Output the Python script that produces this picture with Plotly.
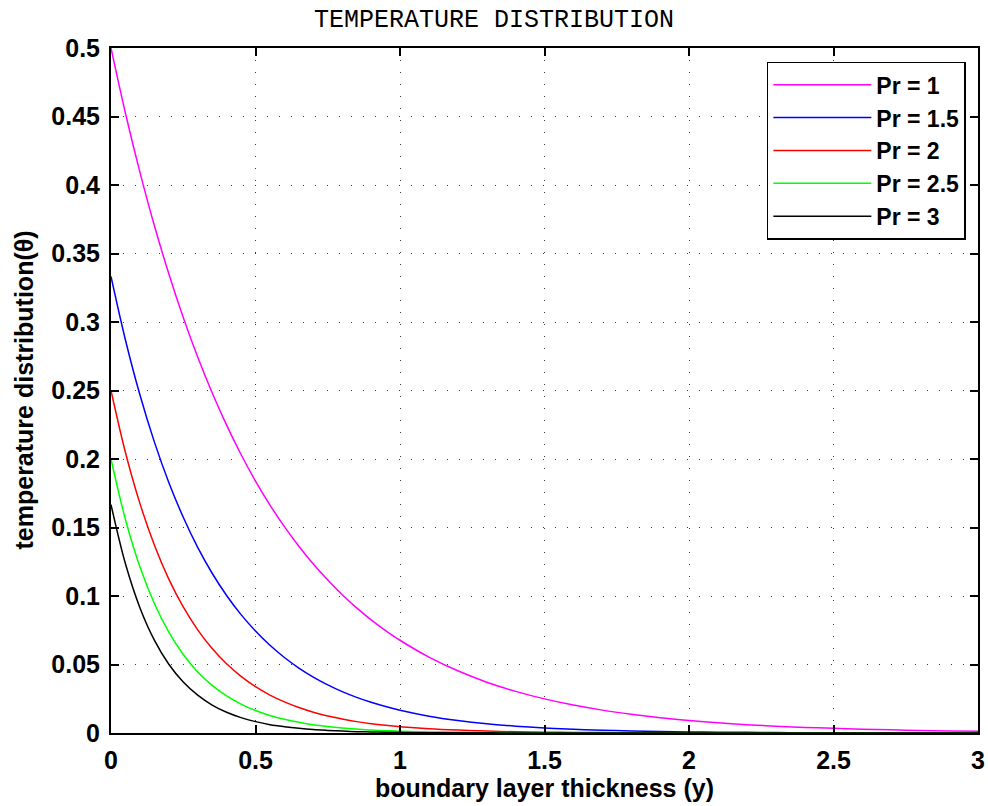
"""
plot.py  –  Temperature distribution across the boundary layer for several Prandtl numbers.
"""

import plotly.graph_objects as go

# ── Data ──────────────────────────────────────────────────────────────────────
y_pos = [0.0, 0.05, 0.1, 0.15, 0.2, 0.25, 0.3, 0.35, 0.4, 0.45, 0.5,
         0.55, 0.6, 0.65, 0.7, 0.75, 0.8, 0.85, 0.9, 0.95, 1.0,
         1.1, 1.2, 1.3, 1.4, 1.5, 1.6, 1.7, 1.8, 1.9, 2.0,
         2.1, 2.2, 2.3, 2.4, 2.5, 2.6, 2.7, 2.8, 2.9, 3.0]

theta_pr1 = [0.5000, 0.4524, 0.4094, 0.3704, 0.3352, 0.3033, 0.2744, 0.2483, 0.2247, 0.2033, 0.1839,
             0.1664, 0.1506, 0.1363, 0.1233, 0.1116, 0.1009, 0.0913, 0.0826, 0.0748, 0.0677,
             0.0554, 0.0454, 0.0371, 0.0304, 0.0249, 0.0204, 0.0167, 0.0137, 0.0112, 0.0092,
             0.0075, 0.0061, 0.0050, 0.0041, 0.0034, 0.0028, 0.0023, 0.0018, 0.0015, 0.0012]
theta_pr15 = [0.3333, 0.2869, 0.2469, 0.2125, 0.1829, 0.1575, 0.1355, 0.1166, 0.1004, 0.0864, 0.0744,
              0.0640, 0.0551, 0.0474, 0.0408, 0.0351, 0.0302, 0.0260, 0.0224, 0.0193, 0.0166,
              0.0123, 0.0091, 0.0067, 0.0050, 0.0037, 0.0027, 0.0020, 0.0015, 0.0011, 0.0008,
              0.0006, 0.0005, 0.0003, 0.0002, 0.0002, 0.0001, 0.0001, 0.0001, 0.0001, 0.0]
theta_pr2 = [0.2500, 0.2047, 0.1676, 0.1372, 0.1123, 0.0920, 0.0753, 0.0617, 0.0505, 0.0413, 0.0338,
             0.0277, 0.0227, 0.0186, 0.0152, 0.0124, 0.0102, 0.0083, 0.0068, 0.0056, 0.0046,
             0.0031, 0.0021, 0.0014, 0.0009, 0.0006, 0.0004, 0.0003, 0.0002, 0.0001, 0.0001,
             0.0, 0.0, 0.0, 0.0, 0.0, 0.0, 0.0, 0.0, 0.0, 0.0]
theta_pr25 = [0.2000, 0.1558, 0.1213, 0.0945, 0.0736, 0.0573, 0.0446, 0.0348, 0.0271, 0.0211, 0.0164,
              0.0128, 0.0100, 0.0078, 0.0060, 0.0047, 0.0037, 0.0029, 0.0022, 0.0017, 0.0013,
              0.0008, 0.0005, 0.0003, 0.0002, 0.0001, 0.0, 0.0, 0.0, 0.0, 0.0,
              0.0, 0.0, 0.0, 0.0, 0.0, 0.0, 0.0, 0.0, 0.0, 0.0]
theta_pr3 = [0.1667, 0.1235, 0.0915, 0.0678, 0.0502, 0.0372, 0.0276, 0.0204, 0.0151, 0.0112, 0.0083,
             0.0061, 0.0046, 0.0034, 0.0025, 0.0019, 0.0014, 0.0010, 0.0008, 0.0006, 0.0004,
             0.0002, 0.0001, 0.0001, 0.0, 0.0, 0.0, 0.0, 0.0, 0.0, 0.0,
             0.0, 0.0, 0.0, 0.0, 0.0, 0.0, 0.0, 0.0, 0.0, 0.0]

series_names = ["Pr = 1", "Pr = 1.5", "Pr = 2", "Pr = 2.5", "Pr = 3"]
series_values = [theta_pr1, theta_pr15, theta_pr2, theta_pr25, theta_pr3]
series_colors = ["#FF00FF", "#0000FF", "#FF0000", "#00FF00", "#000000"]

# ── Shared style ──────────────────────────────────────────────────────────────
W, H = 988, 806
_FONT = "Liberation Sans, Arial, sans-serif"
_BOLD = dict(family=_FONT, size=25, color="black", weight="bold")
_AXIS = dict(
    showline=True, linecolor="black", linewidth=2, mirror="ticks",
    ticks="inside", ticklen=8, tickwidth=1.5, tickcolor="black",
    showgrid=True, gridcolor="#3a3a3a", gridwidth=1, griddash="1px,11px",
    zeroline=False, automargin=False, ticklabelstandoff=4,
    tickfont=_BOLD,
)

fig = go.Figure()
for name, vals, color in zip(series_names, series_values, series_colors):
    fig.add_trace(go.Scatter(
        x=y_pos, y=vals, name=name, mode="lines",
        line=dict(color=color, width=1.5, shape="spline", smoothing=1.0),
    ))

fig.update_layout(
    width=W, height=H,
    paper_bgcolor="white", plot_bgcolor="white",
    margin=dict(l=111, r=10, t=48, b=73),
    title=dict(text="TEMPERATURE DISTRIBUTION", x=0.5, xanchor="center",
               y=1 - 18 / H, yanchor="middle", automargin=False,
               font=dict(family="Liberation Mono, Courier New, monospace",
                         size=25, color="black")),
    legend=dict(x=0.986, xanchor="right", y=0.98, yanchor="top",
                bgcolor="white", bordercolor="black", borderwidth=1.5,
                itemwidth=98, tracegroupgap=0,
                font=dict(family=_FONT, size=23, color="black", weight="bold")),
    showlegend=True,
)
fig.update_xaxes(**_AXIS, range=[0, 3], dtick=0.5, tick0=0,
                 title=dict(text="boundary layer thickness (y)", standoff=4, font=_BOLD))
fig.update_yaxes(**_AXIS, range=[0, 0.5], dtick=0.05, tick0=0)

# y title placed by hand: sits closer to the tick labels than plotly allows
fig.add_annotation(text="temperature distribution(θ)", textangle=-90,
                   xref="paper", yref="paper", x=0, y=0.5, xshift=-88,
                   xanchor="center", yanchor="middle", showarrow=False,
                   font=_BOLD)

# drop the default 8px body margin so the figure fills the window exactly
fig.write_html("out.html", config={"displayModeBar": False},
               post_script="document.body.style.margin='0';")
